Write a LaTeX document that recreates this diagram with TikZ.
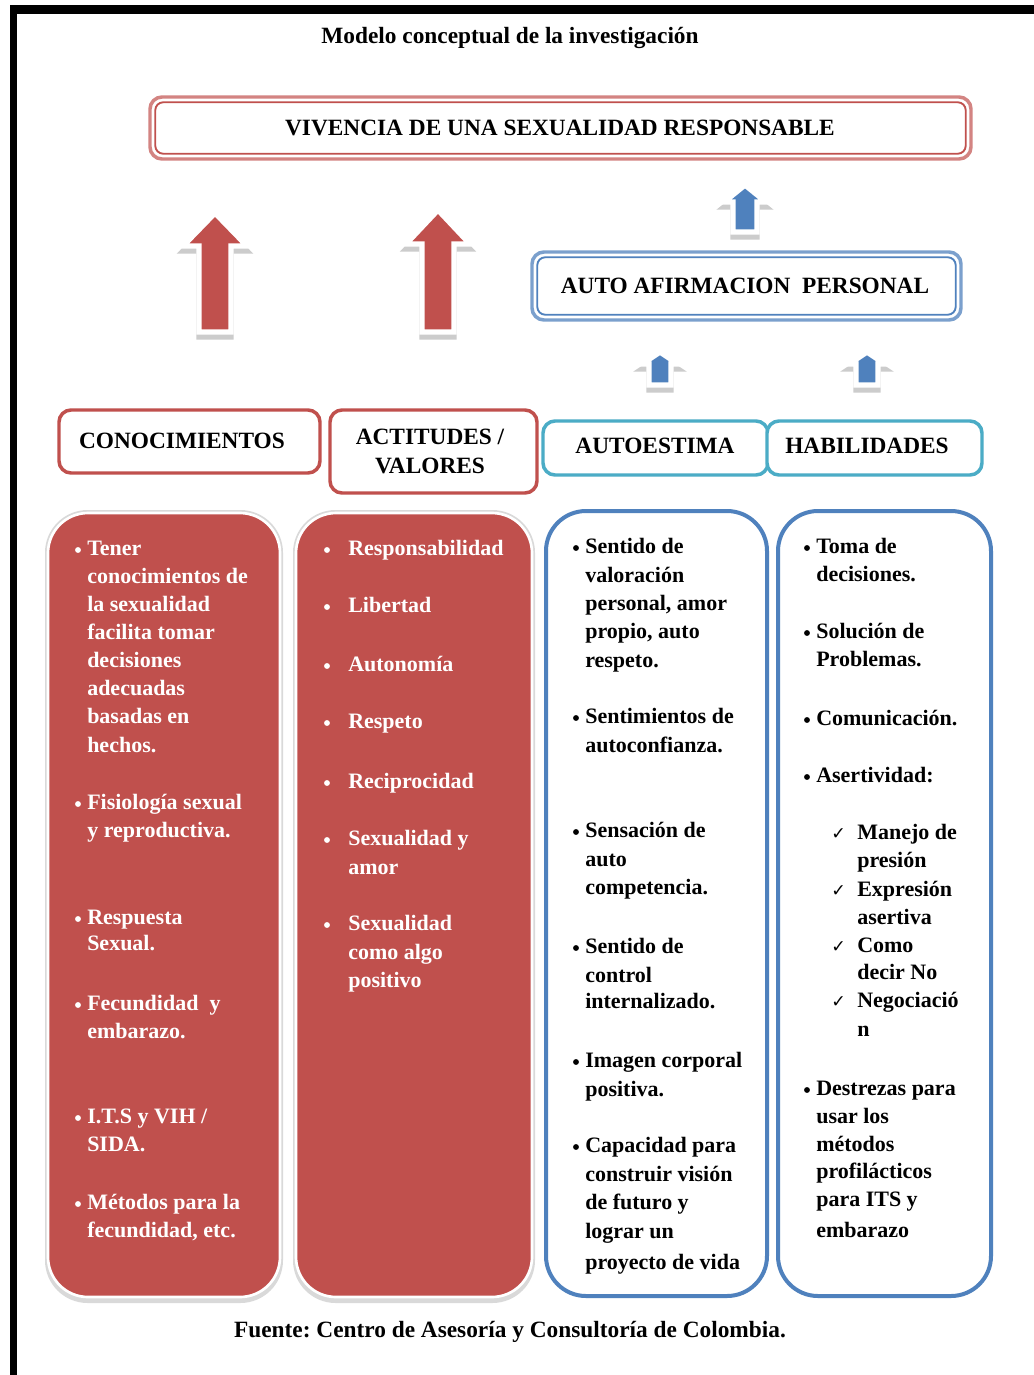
\documentclass[tikz,border=0pt]{standalone}
\usepackage{fontspec}
\setmainfont{Liberation Serif}
\newfontfamily\symf{DejaVu Sans}
\usetikzlibrary{fit}
\definecolor{myred}{HTML}{C0504D}
\definecolor{myblue}{HTML}{4F81BD}
\definecolor{myteal}{HTML}{4BACC6}
\newcommand\blockarr[8]{%
 \coordinate (#1) at (#2,#3);
 \filldraw[gray!40, line width=4pt, line join=miter, shift={(0,5)}] (#2,#3) -- ({#2+#5},#4) -- ({#2+#6},#4) -- ({#2+#6},#7) -- ({#2-#6},#7) -- ({#2-#6},#4) -- ({#2-#5},#4) -- cycle;
 \filldraw[fill=#8, draw=white, line width=4pt, line join=miter] (#2,#3) -- ({#2+#5},#4) -- ({#2+#6},#4) -- ({#2+#6},#7) -- ({#2-#6},#7) -- ({#2-#6},#4) -- ({#2-#5},#4) -- cycle;
}
\begin{document}
\begin{tikzpicture}[x=0.75pt,y=-0.75pt,
  body/.style={font=\bfseries\fontsize{16.5}{20}\selectfont, inner sep=0pt, anchor=base west},
  head/.style={font=\bfseries\fontsize{17.5}{21.75}\selectfont, inner sep=0pt, align=center},
  hdrred/.style={draw=myred, line width=2.6pt, rounded corners=9pt, fill=white, inner sep=0pt},
  hdrteal/.style={draw=myteal, line width=2.6pt, rounded corners=9pt, fill=white, inner sep=0pt},
  colred/.style={fill=myred, draw=white, line width=2pt, rounded corners=30pt, inner sep=0pt},
  colblue/.style={fill=white, draw=myblue, line width=3pt, rounded corners=30pt, inner sep=0pt},
  bul/.style={circle, inner sep=0pt, minimum size=4.4pt},
  chk/.style={font=\symf\fontsize{13}{13}\selectfont, inner sep=0pt, anchor=base west}
]
\useasboundingbox (0,0) rectangle (1034,1375);
\fill[white] (0,0) rectangle (1034,1375);
% frame
\fill[black] (10,5) rectangle (1034,14);
\fill[black] (10,5) rectangle (17,1375);

% title
\node[head] (title) at (510,38) {Modelo conceptual de la investigación};

% banner
\node[fit={(150,97) (971,159)}, draw=myred!70, line width=2.6pt, rounded corners=9pt, inner sep=0pt] (viv) {};
\draw[myred, line width=1.4pt, rounded corners=6pt] ([shift={(7,7)}]viv.north west) rectangle ([shift={(-7,-7)}]viv.south east);
\node[head] (vivt) at (560,128) {VIVENCIA DE UNA SEXUALIDAD RESPONSABLE};

% auto afirmacion
\node[fit={(532,252) (961,320)}, draw=myblue!75, line width=2.6pt, rounded corners=9pt, inner sep=0pt] (aap) {};
\draw[myblue, line width=1.4pt, rounded corners=6pt] ([shift={(7,7)}]aap.north west) rectangle ([shift={(-7,-7)}]aap.south east);
\node[head] (aapt) at (745,286) {AUTO AFIRMACION\ \ PERSONAL};

% arrows
\blockarr{ar1}{215}{213}{246}{32}{16}{332}{myred}
\blockarr{ar2}{438}{210}{244}{32}{16}{332}{myred}
\blockarr{ar3}{745}{185}{202}{21}{12}{232}{myblue}
\blockarr{ar4}{660}{352}{364}{18}{11}{385}{myblue}
\blockarr{ar5}{867}{352}{364}{18}{11}{385}{myblue}

% headers
\node[fit={(59,410) (320,473)}, hdrred] (conoc) {};
\node[head] (conoct) at (182,441) {CONOCIMIENTOS};
\node[fit={(330,410) (537,493)}, hdrred] (actit) {};
\node[head] (actitt) at (430,451) {ACTITUDES /\\VALORES};
\node[fit={(543,421) (768,475)}, hdrteal] (autoe) {};
\node[head] (autoet) at (655,446) {AUTOESTIMA};
\node[fit={(767,421) (982,475)}, hdrteal] (habil) {};
\node[head] (habilt) at (867,446) {HABILIDADES};

% columns
\fill[gray!30, rounded corners=32pt] (45,510) rectangle (283,1303);
\fill[gray!30, rounded corners=32pt] (293,510) rectangle (535,1303);
\node[fit={(48,513) (280,1297)}, colred] (col1) {};
\node[fit={(296,513) (532,1297)}, colred] (col2) {};
\node[fit={(546,511) (767,1296)}, colblue] (col3) {};
\node[fit={(778,511) (991,1296)}, colblue] (col4) {};

% column 1
\foreach \y/\t [count=\i] in {549/Tener, 577/conocimientos de, 605/la sexualidad, 633/facilita tomar,
  661/decisiones, 689/adecuadas, 717/basadas en, 746/hechos., 803/Fisiología sexual, 831/y reproductiva.,
  918/Respuesta, 944/Sexual., 1004/Fecundidad\ \ y, 1032/embarazo., 1117/{I.T.S y VIH /}, 1145/SIDA.,
  1203/Métodos para la, 1231/{fecundidad, etc.}}
  {\node[body, text=white] (a\i) at (87,\y+6) {\t};}
\foreach \y in {549,803,918,1004,1117,1203}
  {\node[bul, fill=white] (ab\y) at (78,\y+1) {};}

% column 2
\foreach \y/\t [count=\i] in {549/Responsabilidad, 606/Libertad, 665/Autonomía, 722/Respeto,
  782/Reciprocidad, 839/Sexualidad y, 868/amor, 924/Sexualidad, 953/como algo, 981/positivo}
  {\node[body, text=white] (b\i) at (348,\y+6) {\t};}
\foreach \y in {549,606,665,722,782,839,924}
  {\node[bul, fill=white] (bb\y) at (327,\y+1) {};}

% column 3
\foreach \y/\t [count=\i] in {547/Sentido de, 576/valoración, 604/{personal, amor}, 632/{propio, auto},
  661/respeto., 717/Sentimientos de, 746/autoconfianza., 831/Sensación de, 860/auto, 888/competencia.,
  947/Sentido de, 976/control, 1002/internalizado., 1061/Imagen corporal, 1090/positiva.,
  1146/Capacidad para, 1175/construir visión, 1203/de futuro y, 1232/lograr un, 1263/proyecto de vida}
  {\node[body, text=black] (c\i) at (585,\y+6) {\t};}
\foreach \y in {547,717,831,947,1061,1146}
  {\node[bul, fill=black] (cb\y) at (576,\y+1) {};}

% column 4
\foreach \y/\t [count=\i] in {547/Toma de, 575/decisiones., 632/Solución de, 660/Problemas.,
  719/Comunicación., 776/Asertividad:, 1089/Destrezas para, 1117/usar los, 1145/métodos,
  1172/profilácticos, 1200/para ITS y, 1231/embarazo}
  {\node[body, text=black] (d\i) at (816,\y+6) {\t};}
\foreach \y in {547,632,719,776,1089}
  {\node[bul, fill=black] (db\y) at (807,\y+1) {};}
\foreach \y/\t [count=\i] in {833/Manejo de, 861/presión, 890/Expresión, 918/asertiva,
  946/Como, 973/decir No, 1001/Negociació, 1030/n}
  {\node[body, text=black] (e\i) at (857,\y+6) {\t};}
\foreach \y in {833,890,946,1001}
  {\node[chk] (ck\y) at (831,\y+6) {✓};}

% footer
\node[head] (fuente) at (510,1332) {Fuente:\ Centro\ de Asesoría y Consultoría de Colombia.};
\end{tikzpicture}
\end{document}
